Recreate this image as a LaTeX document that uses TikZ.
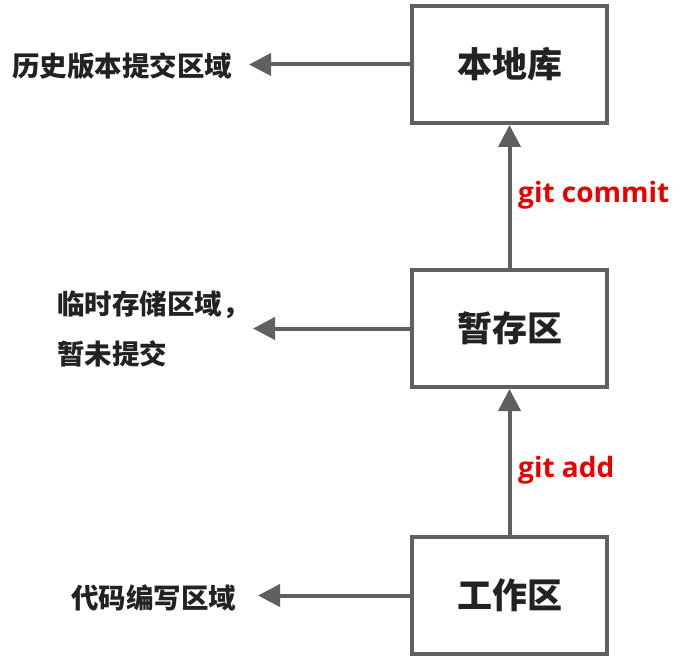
\documentclass[tikz,border=0pt]{standalone}
\usepackage{fontspec}
\newfontfamily\cjk{Noto Sans CJK SC}
\newfontfamily\latinb{Open Sans}
\usetikzlibrary{arrows.meta}
\definecolor{boxgray}{RGB}{96,96,96}
\definecolor{txt}{RGB}{34,34,34}
\definecolor{gitred}{RGB}{235,0,0}
\begin{document}
\begin{tikzpicture}[x=1pt,y=1pt,
  stage/.style={draw=boxgray,line width=4pt,minimum width=195pt,minimum height=117pt,
    inner sep=0pt,font=\cjk\bfseries\fontsize{35}{40}\selectfont,text=txt},
  desc/.style={inner sep=0pt,font=\cjk\bfseries\fontsize{27.5}{50}\selectfont,text=txt,align=left},
  cmd/.style={inner sep=0pt,anchor=west,font=\latinb\bfseries\fontsize{28}{32}\selectfont,text=gitred},
  arr/.style={draw=boxgray,line width=4pt,-{Triangle[width=22pt,length=22pt]}}]
\useasboundingbox (0,0) rectangle (684,-660);
\node[stage] (repo) at (509.5,-64.5) {本地库};
\node[stage] (stage) at (509.5,-328.5) {暂存区};
\node[stage] (work) at (509.5,-595.5) {工作区};
\node[desc,anchor=west] (d1) at (12,-66) {历史版本提交区域};
\node[desc,anchor=west] (d2) at (57,-329) {临时存储区域，\\暂未提交};
\node[desc,anchor=west] (d3) at (71,-598) {代码编写区域};
\coordinate (tip1) at (249,-64.5);
\coordinate (tip2) at (253,-328.5);
\coordinate (tip3) at (258,-595.5);
\draw[arr] (repo.west) -- (tip1);
\draw[arr] (stage.west) -- (tip2);
\draw[arr] (work.west) -- (tip3);
\draw[arr] (stage.north) -- (repo.south);
\draw[arr] (work.north) -- (stage.south);
\node[cmd] (c1) at (518,-195) {git commit};
\node[cmd] (c2) at (518,-470) {git add};
\end{tikzpicture}
\end{document}
